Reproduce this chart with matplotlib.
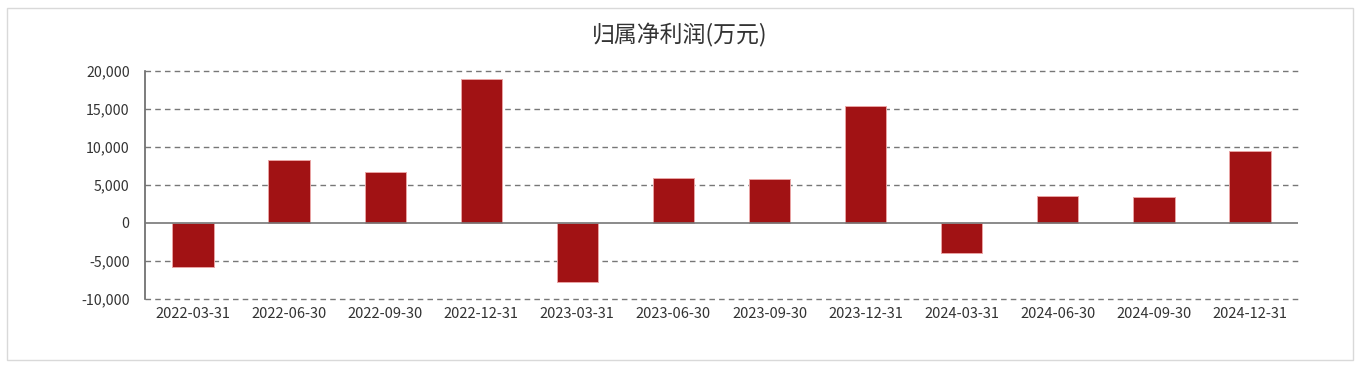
import matplotlib
matplotlib.use("Agg")
import matplotlib.pyplot as plt
from matplotlib.patches import Rectangle
from matplotlib.ticker import FuncFormatter

plt.rcParams['font.family'] = ['Noto Sans CJK SC', 'DejaVu Sans']

dates = ["2022-03-31", "2022-06-30", "2022-09-30", "2022-12-31",
         "2023-03-31", "2023-06-30", "2023-09-30", "2023-12-31",
         "2024-03-31", "2024-06-30", "2024-09-30", "2024-12-31"]
profit = [-5800, 8330, 6710, 18950,
          -7760, 5920, 5830, 15430,
          -3950, 3600, 3470, 9510]
yticks = [-10000, -5000, 0, 5000, 10000, 15000, 20000]

fig = plt.figure(figsize=(13.6, 3.76), dpi=100)
fig.patches.append(Rectangle((7 / 1360, 16 / 376), 1346 / 1360, 352 / 376,
                             transform=fig.transFigure, fill=False,
                             edgecolor='#d9d9d9', linewidth=1))
ax = fig.add_axes([145 / 1360, 1 - 299 / 376, 1153 / 1360, 228 / 376])

x = list(range(len(dates)))
ax.bar(x, profit, width=0.43, color='#a11214', edgecolor='#e9a3a3',
       linewidth=0.7, zorder=3)

ax.set_xlim(-0.5, len(dates) - 0.5)
ax.set_ylim(-10000, 20000)
ax.set_yticks(yticks)
ax.yaxis.set_major_formatter(FuncFormatter(lambda v, p: f"{int(v):,}"))
ax.set_xticks(x)
ax.set_xticklabels(dates)

for v in yticks:
    if v == 0:
        ax.axhline(0, color='#777777', linewidth=1.2, zorder=4)
    else:
        ax.axhline(v, color='#777777', linewidth=1.0, linestyle=(0, (4, 3)),
                   zorder=1, clip_on=False)

for s in ['top', 'right', 'bottom']:
    ax.spines[s].set_visible(False)
ax.spines['left'].set_color('#666666')
ax.spines['left'].set_linewidth(1.2)
ax.tick_params(axis='both', length=0, colors='#333333')
ax.tick_params(axis='y', pad=11, labelsize=10.2)
ax.tick_params(axis='x', pad=6, labelsize=10.5)

fig.text(0.5, 1 - 35 / 376, "归属净利润(万元)", ha='center', va='center',
         fontsize=16.5, color='#333333')

fig.savefig("out.png", dpi=100)
